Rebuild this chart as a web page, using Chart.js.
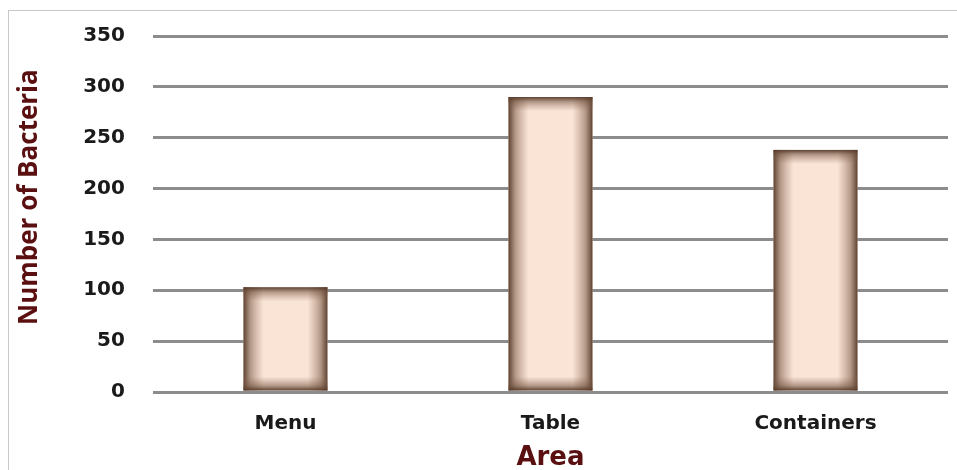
<!DOCTYPE html>
<html lang="en">
<head>
    <meta charset="UTF-8">
    <title>Number of Bacteria by Area</title>
    <script src="https://cdn.jsdelivr.net/npm/chart.js"></script>
    <style>
        body {
            margin: 0;
            background: #ffffff;
        }

        .wrap {
            position: relative;
            width: 957px;
            height: 470px;
            overflow: hidden;
        }

        /* thin frame around the plot */
        .frame {
            position: absolute;
            left: 8px;
            top: 10px;
            width: 960px;
            height: 470px;
            border-left: 1px solid #c8c8c8;
            border-top: 1px solid #c8c8c8;
        }

        canvas {
            position: absolute;
            left: 0;
            top: 0;
        }
    </style>
</head>
<body>
    <div class="wrap">
        <div class="frame"></div>
        <canvas id="myChart" width="957" height="470"></canvas>
    </div>
    <script>
        // data
        const areas = ['Menu', 'Table', 'Containers'];
        const bacteria = [103, 290, 238];
        const yTicks = [0, 50, 100, 150, 200, 250, 300, 350];

        // shaded edges on each bar (dark brown fading into the peach fill)
        function edge(ctx, x0, y0, x1, y1) {
            const g = ctx.createLinearGradient(x0, y0, x1, y1);
            g.addColorStop(0, 'rgba(84,56,40,0.95)');
            g.addColorStop(0.35, 'rgba(110,78,58,0.5)');
            g.addColorStop(1, 'rgba(140,100,80,0)');
            return g;
        }

        const barShade = {
            id: 'barShade',
            afterDatasetsDraw(chart) {
                const ctx = chart.ctx;
                chart.getDatasetMeta(0).data.forEach(bar => {
                    const left = bar.x - bar.width / 2;
                    const right = bar.x + bar.width / 2;
                    const top = bar.y;
                    const bottom = bar.base;
                    const h = bottom - top;
                    const w = right - left;
                    const side = 20, cap = 14;
                    ctx.save();
                    ctx.fillStyle = edge(ctx, left, 0, left + side, 0);
                    ctx.fillRect(left, top, side, h);
                    ctx.fillStyle = edge(ctx, right, 0, right - side, 0);
                    ctx.fillRect(right - side, top, side, h);
                    ctx.fillStyle = edge(ctx, 0, top, 0, top + cap);
                    ctx.fillRect(left, top, w, cap);
                    ctx.fillStyle = edge(ctx, 0, bottom, 0, bottom - cap);
                    ctx.fillRect(left, bottom - cap, w, cap);
                    ctx.restore();
                });
            }
        };

        const ctx = document.getElementById('myChart').getContext('2d');
        const chart = new Chart(ctx, {
            type: 'bar',
            data: {
                labels: areas,
                datasets: [{
                    data: bacteria,
                    backgroundColor: '#f9e4d6',
                    borderWidth: 0,
                    categoryPercentage: 1,
                    barPercentage: 0.317
                }]
            },
            options: {
                responsive: false,
                animation: false,
                layout: {
                    padding: { left: 14, right: 9, top: 36, bottom: 0 }
                },
                plugins: {
                    legend: { display: false },
                    tooltip: { enabled: false }
                },
                scales: {
                    x: {
                        afterFit: axis => { axis.height = 78; },
                        grid: { display: false, drawTicks: false },
                        border: { display: false },
                        ticks: {
                            color: '#1a1a1a',
                            padding: 20,
                            font: { family: 'DejaVu Sans', weight: 'bold', size: 20 }
                        },
                        title: {
                            display: true,
                            text: 'Area',
                            color: '#5a1010',
                            padding: { top: 0, bottom: -4 },
                            font: { family: 'DejaVu Sans', weight: 'bold', size: 26 }
                        }
                    },
                    y: {
                        min: 0,
                        max: 350,
                        afterBuildTicks: axis => {
                            axis.ticks = yTicks.map(v => ({ value: v }));
                        },
                        afterFit: axis => {
                            axis.paddingTop = 0;
                            axis.paddingBottom = 0;
                        },
                        grid: {
                            color: 'rgba(120,120,120,0.85)',
                            lineWidth: 3,
                            drawTicks: false
                        },
                        border: { display: false },
                        ticks: {
                            color: '#1a1a1a',
                            padding: 28,
                            font: { family: 'DejaVu Sans', weight: 'bold', size: 20 }
                        },
                        title: {
                            display: true,
                            text: '     Number of Bacteria',
                            color: '#5a1010',
                            padding: { top: 0, bottom: 10 },
                            font: { family: 'Open Sans', weight: 'bold', size: 26 }
                        }
                    }
                }
            },
            plugins: [barShade]
        });
    </script>
</body>
</html>
